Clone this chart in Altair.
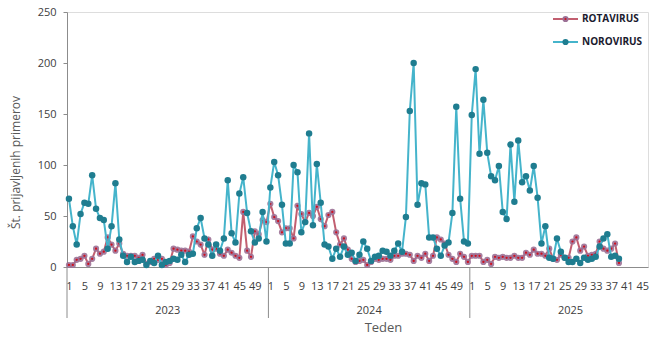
import altair as alt
import pandas as pd

# ---------------- data ----------------
years = [2023, 2024, 2025]
weeks_on_axis = [52, 52, 46]

rota_2023 = [2, 2, 7, 8, 11, 3, 8, 18, 13, 15, 29, 22, 16, 23, 13, 11, 11, 11, 9, 12,
             3, 5, 8, 7, 8, 2, 4, 18, 17, 16, 16, 15, 30, 25, 22, 12, 27, 17, 18, 13,
             11, 17, 14, 11, 9, 54, 16, 10, 35, 32, 46, 44]
noro_2023 = [67, 40, 22, 52, 63, 62, 90, 57, 48, 46, 18, 40, 82, 27, 11, 5, 10, 5, 6, 7,
             2, 6, 4, 11, 2, 5, 6, 8, 7, 12, 5, 12, 13, 38, 48, 28, 22, 11, 22, 16,
             28, 85, 33, 24, 72, 88, 53, 35, 24, 28, 54, 25]
rota_2024 = [62, 49, 45, 34, 38, 38, 28, 60, 52, 44, 53, 50, 59, 47, 40, 51, 54, 34, 22, 28,
             17, 8, 5, 6, 7, 2, 5, 8, 7, 8, 8, 7, 11, 11, 13, 13, 12, 6, 11, 9,
             13, 6, 11, 29, 27, 23, 12, 8, 5, 13, 10, 5]
noro_2024 = [78, 103, 90, 61, 23, 23, 100, 93, 34, 44, 131, 41, 101, 63, 22, 20, 8, 18, 10, 20,
             12, 14, 6, 12, 25, 18, 6, 10, 11, 16, 15, 11, 16, 23, 15, 49, 153, 200, 61, 82,
             81, 29, 29, 18, 11, 21, 24, 53, 157, 67, 25, 23]
rota_2025 = [11, 11, 11, 5, 7, 3, 10, 9, 10, 9, 9, 11, 9, 9, 14, 12, 17, 13, 13, 11,
             18, 8, 7, 12, 9, 9, 25, 29, 16, 20, 11, 12, 13, 25, 18, 16, 18, 23, 4]
noro_2025 = [149, 194, 111, 164, 112, 89, 85, 99, 54, 47, 120, 64, 124, 83, 89, 75, 99, 68, 23, 40,
             9, 8, 28, 15, 9, 5, 5, 8, 4, 9, 7, 8, 10, 20, 28, 32, 10, 11, 8]

rota = {2023: rota_2023, 2024: rota_2024, 2025: rota_2025}
noro = {2023: noro_2023, 2024: noro_2024, 2025: noro_2025}

week_label_step = 4
last_label_week = [49, 49, 45]

# ---------------- build tables ----------------
rows = []
offsets = []
off = 0
for y, n in zip(years, weeks_on_axis):
    offsets.append(off)
    for name, src in (("ROTAVIRUS", rota), ("NOROVIRUS", noro)):
        for i, v in enumerate(src[y]):
            rows.append({"idx": off + i, "year": y, "week": i + 1, "series": name, "value": v})
    off += n
total = off
df = pd.DataFrame(rows)
df_r = df[df.series == "ROTAVIRUS"]
df_n = df[df.series == "NOROVIRUS"]

tick_vals = []
for o, lw in zip(offsets, last_label_week):
    tick_vals += [o + w - 1 for w in range(1, lw + 1, week_label_step)]

years_txt_df = pd.DataFrame({"year": [str(y) for y in years], "idx": [o + 25.5 for o in offsets]})
seps_df = pd.DataFrame({"idx": [o - 0.5 for o in offsets]})

W, H = 581, 255
FONT = "Open Sans"
xscale = alt.Scale(domain=[-0.5, total - 0.5], nice=False, zero=False)
yscale = alt.Scale(domain=[0, 250], nice=False)

label_expr = ("'' + (datum.value < %d ? datum.value + 1 : (datum.value < %d ? datum.value - %d : datum.value - %d))"
              % (offsets[1], offsets[2], offsets[1] - 1, offsets[2] - 1))

x_axis = alt.Axis(values=tick_vals, labelExpr=label_expr, ticks=False, grid=False,
                  labelOverlap=False, labelFlush=False, labelBound=False,
                  labelPadding=13, labelFontSize=11, labelColor="#404040", labelFont=FONT,
                  domainColor="#8c8c8c", title="Teden", titleFont=FONT, titleFontSize=13,
                  titleFontWeight="normal", titleColor="#595959",
                  titleX=316, titleY=60, titleBaseline="middle")
y_axis = alt.Axis(values=[0, 50, 100, 150, 200, 250], grid=False, tickSize=4,
                  tickColor="#8c8c8c", domainColor="#8c8c8c", labelPadding=7,
                  labelFontSize=11, labelColor="#404040", labelFont=FONT,
                  title="Št. prijavljenih primerov", titleFont=FONT, titleFontSize=12,
                  titleFontWeight="normal", titleColor="#595959",
                  titleX=-52, titleY=150, titleAngle=-90, titleBaseline="middle")

X = alt.X("idx:Q", scale=xscale, axis=x_axis, title="Teden")
Y = alt.Y("value:Q", scale=yscale, axis=y_axis, title="Št. prijavljenih primerov")

rota_line = alt.Chart(df_r).mark_line(color="#c25f70", strokeWidth=2).encode(x=X, y=Y)
rota_pts = alt.Chart(df_r).mark_circle(size=38, color="#9c7196", opacity=0.9).encode(x=X, y=Y)
rota_dot = alt.Chart(df_r).mark_circle(size=5, color="#d0101e", opacity=1).encode(x=X, y=Y)
noro_line = alt.Chart(df_n).mark_line(color="#45b4cb", strokeWidth=2).encode(x=X, y=Y)
noro_pts = alt.Chart(df_n).mark_circle(size=42, color="#1f7d90", opacity=1).encode(x=X, y=Y)

seps = alt.Chart(seps_df).mark_rule(color="#8c8c8c", strokeWidth=1).encode(
    x=X, y=alt.value(H), y2=alt.value(H + 51))
year_txt = alt.Chart(years_txt_df).mark_text(font=FONT, fontSize=11, color="#404040",
                                             baseline="middle", align="center").encode(
    x=X, y=alt.value(H + 44), text="year:N")

# legend
leg = []
for name, yy, lc, pc in (("ROTAVIRUS", 7, "#c25f70", "#9c7196"), ("NOROVIRUS", 30, "#45b4cb", "#1f7d90")):
    ldf = pd.DataFrame({"series": [name]})
    leg.append(alt.Chart(ldf).mark_rule(color=lc, strokeWidth=2).encode(
        x=alt.value(486), x2=alt.value(511), y=alt.value(yy)))
    leg.append(alt.Chart(ldf).mark_circle(size=38, color=pc, opacity=1).encode(
        x=alt.value(498.5), y=alt.value(yy)))
    if name == "ROTAVIRUS":
        leg.append(alt.Chart(ldf).mark_circle(size=5, color="#d0101e", opacity=1).encode(
            x=alt.value(498.5), y=alt.value(yy)))
    leg.append(alt.Chart(ldf).mark_text(font=FONT, fontSize=10, fontWeight="bold", color="#1a1a2e",
                                        align="left", baseline="middle").encode(
        x=alt.value(515), y=alt.value(yy), text="series:N"))

chart = alt.layer(rota_line, rota_pts, rota_dot, noro_line, noro_pts, seps, year_txt, *leg).properties(
    width=W, height=H,
    padding={"left": 67, "top": 12, "right": 22, "bottom": 82},
    autosize=alt.AutoSizeParams(type="none"),
).configure_view(strokeWidth=0).configure(background="white")

chart.save("out.html", embed_options={"renderer": "svg", "actions": False})
